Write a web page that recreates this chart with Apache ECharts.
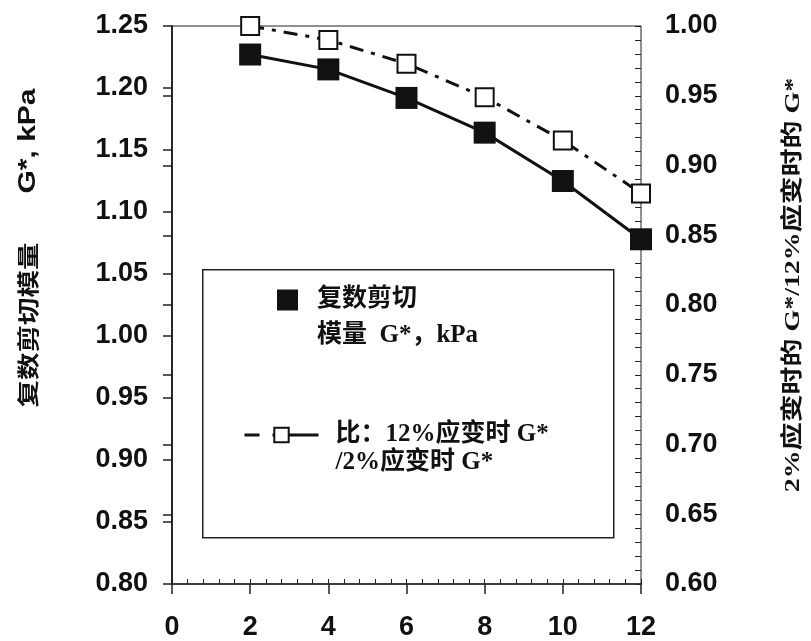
<!DOCTYPE html>
<html>
<head>
<meta charset="utf-8">
<script src="https://cdn.jsdelivr.net/npm/echarts@6/dist/echarts.min.js"></script>
<style>
  html, body { margin: 0; padding: 0; background: #fff; }
  #chart { width: 811px; height: 641px; }
</style>
</head>
<body>
<div id="chart"></div>
<script>
// 应变 (%)
const strains = [2, 4, 6, 8, 10, 12]
// 复数剪切模量 G*, kPa（左轴）
const modulus = [1.227, 1.215, 1.192, 1.164, 1.125, 1.078]
// 比值：12%应变时 G* / 2%应变时 G*（右轴）
const ratio = [1.000, 0.990, 0.973, 0.949, 0.918, 0.880]

const nameA = '复数剪切模量 G*，kPa'
const nameB = '比：12%应变时 G*/2%应变时 G*'
// 图例文字分两行，前面空一行让图标对齐第一行
const legendText = {
  [nameA]: '\n复数剪切\n模量  G*，kPa',
  [nameB]: '\n比：12%应变时 G*\n/2%应变时 G*'
}

const numFont = '"Liberation Sans", Arial, sans-serif'
const cjkFont = '"Liberation Serif", "Noto Sans CJK SC", serif'

const chart = echarts.init(document.getElementById('chart'))

chart.setOption({
  backgroundColor: '#fff',
  animation: false,
  grid: {
    left: 172, right: 170, top: 26, bottom: 57,
    show: true, borderColor: '#222', borderWidth: 1
  },
  xAxis: [{
    type: 'value', min: 0, max: 12, interval: 2,
    axisLine: { lineStyle: { color: '#222', width: 1.5 } },
    axisTick: { length: 10, lineStyle: { color: '#222', width: 1.5 } },
    axisLabel: { margin: 30, color: '#111', fontSize: 27, fontWeight: 'bold', fontFamily: numFont },
    splitLine: { show: false }
  }, {
    // 内侧小刻度
    type: 'value', min: 0, max: 12, interval: 2, position: 'bottom',
    axisLine: { show: false },
    axisTick: { inside: true, length: 5, lineStyle: { color: '#222' } },
    minorTick: { show: true, splitNumber: 5, length: 5, lineStyle: { color: '#222' } },
    axisLabel: { show: false },
    splitLine: { show: false }
  }],
  yAxis: [{
    type: 'value', min: 0.80, max: 1.25, interval: 0.05,
    axisLine: { show: true, lineStyle: { color: '#222', width: 1.5 } },
    axisTick: { show: true, length: 9, lineStyle: { color: '#222', width: 1.5 } },
    axisLabel: {
      margin: 24, color: '#111', fontSize: 27, fontWeight: 'bold', fontFamily: numFont,
      formatter: v => v.toFixed(2)
    },
    splitLine: { show: false }
  }, {
    type: 'value', min: 0.60, max: 1.00, interval: 0.05, position: 'right',
    axisLine: { show: true, lineStyle: { color: '#222', width: 1.5 } },
    axisTick: { show: true, inside: true, length: 9, lineStyle: { color: '#222', width: 1.5 } },
    axisLabel: {
      margin: 24, color: '#111', fontSize: 27, fontWeight: 'bold', fontFamily: numFont,
      formatter: v => v.toFixed(2)
    },
    splitLine: { show: false }
  }, {
    // 右轴内侧小刻度（每 0.01）
    type: 'value', min: 0.60, max: 1.00, interval: 0.01, position: 'right',
    axisLine: { show: false },
    axisTick: { show: true, inside: true, length: 6, lineStyle: { color: '#222' } },
    axisLabel: { show: false },
    splitLine: { show: false }
  }],
  legend: [{
    data: [{ name: nameA, icon: 'rect' }],
    left: 277, top: 246, padding: 0,
    itemWidth: 21, itemHeight: 21,
    formatter: n => legendText[n],
    textStyle: {
      fontSize: 25, fontWeight: 'bold', fontFamily: cjkFont, color: '#111',
      lineHeight: 36, padding: [0, 0, 0, 14]
    }
  }, {
    data: [nameB],
    left: 243, top: 393, padding: 0,
    itemWidth: 74, itemHeight: 18,
    lineStyle: { type: [15, 13, 100], width: 3 },
    formatter: n => legendText[n],
    textStyle: {
      fontSize: 25, fontWeight: 'bold', fontFamily: cjkFont, color: '#111',
      lineHeight: 28, padding: [0, 0, 0, 12]
    }
  }],
  graphic: [{
    type: 'rect', left: 202, top: 269, z: -1,
    shape: { width: 411, height: 268 },
    style: { fill: '#fff', stroke: '#222', lineWidth: 1.5 }
  }, {
    type: 'text', x: 28, y: 141, rotation: Math.PI / 2, scaleX: 1.25,
    style: {
      text: 'G*, kPa', align: 'center', verticalAlign: 'middle',
      font: 'bold 24px "Liberation Sans", sans-serif', fill: '#111'
    }
  }, {
    type: 'text', x: 28, y: 325, rotation: Math.PI / 2, scaleX: 1.25,
    style: {
      text: '复数剪切模量', align: 'center', verticalAlign: 'middle',
      font: 'bold 22px "Noto Sans CJK SC", sans-serif', fill: '#111'
    }
  }, {
    type: 'text', x: 793, y: 285, rotation: Math.PI / 2, scaleX: 1.27,
    style: {
      text: '2%应变时的 G*/12%应变时的 G*', align: 'center', verticalAlign: 'middle',
      font: 'bold 22px "Liberation Serif", "Noto Sans CJK SC", serif', fill: '#111'
    }
  }],
  series: [{
    name: nameA,
    type: 'line',
    xAxisIndex: 0, yAxisIndex: 0,
    data: strains.map((x, i) => [x, modulus[i]]),
    symbol: 'rect', symbolSize: 22,
    itemStyle: { color: '#111' },
    lineStyle: { color: '#111', width: 3 },
    z: 3
  }, {
    name: nameB,
    type: 'line',
    xAxisIndex: 0, yAxisIndex: 1,
    data: strains.map((x, i) => [x, ratio[i]]),
    symbol: 'rect', symbolSize: 18,
    itemStyle: { color: '#fff', borderColor: '#111', borderWidth: 2 },
    lineStyle: { color: '#111', width: 3, type: [14, 8, 4, 8] },
    z: 4
  }]
})
</script>
</body>
</html>
